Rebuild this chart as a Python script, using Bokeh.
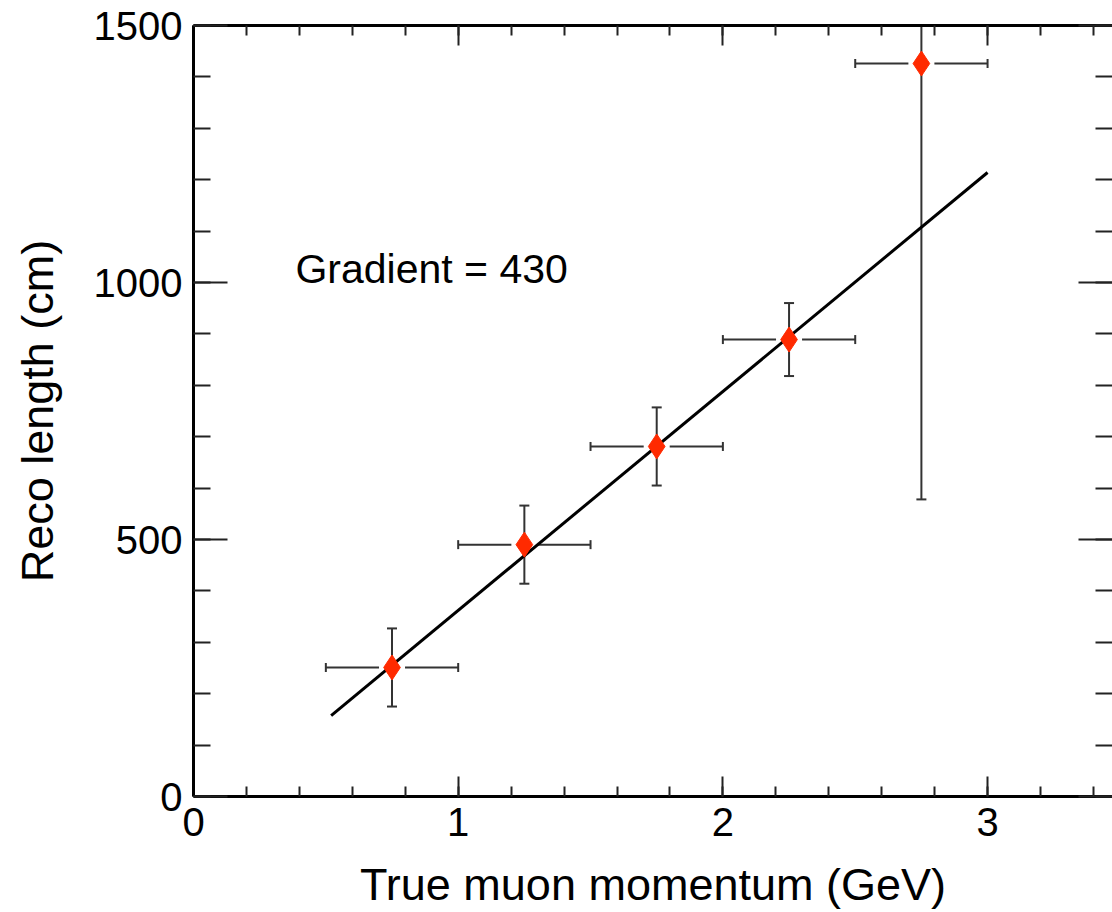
from bokeh.plotting import figure
from bokeh.models import (Range1d, LinearAxis, SingleIntervalTicker, Whisker, TeeHead,
                          ColumnDataSource, Label)
from bokeh.embed import file_html
from bokeh.resources import INLINE

# ---- data ----
momentum = [0.75, 1.25, 1.75, 2.25, 2.75]          # GeV (bin centres)
momentum_err = [0.25, 0.25, 0.25, 0.25, 0.25]      # half bin width
reco_length = [251, 490, 681, 889, 1426]           # cm
reco_length_err = [76, 76, 76, 71, 848]            # cm
fit_slope = 426.0
fit_intercept = -64.0
fit_range = [0.52, 3.0]

x_end = 3.472
y_end = 1500

FONT = "Liberation Sans"
RED = "#ff2a00"
BAR = "#333333"

p = figure(width=1112, height=912, output_backend="svg", toolbar_location=None,
           x_range=Range1d(0, x_end), y_range=Range1d(0, y_end),
           min_border_left=193, min_border_top=25, min_border_bottom=116,
           min_border_right=0, x_axis_location=None, y_axis_location=None)
p.outline_line_color = None
p.grid.visible = False
p.background_fill_color = "white"
p.border_fill_color = "white"

xt = SingleIntervalTicker(interval=1, num_minor_ticks=5)
yt = SingleIntervalTicker(interval=500, num_minor_ticks=5)


def style(ax, tick_major, tick_minor, show_labels, show_line=True):
    ax.axis_line_width = 3
    ax.axis_line_color = "black" if show_line else None
    ax.major_tick_in = tick_major
    ax.major_tick_out = 0
    ax.minor_tick_in = tick_minor
    ax.minor_tick_out = 0
    ax.major_tick_line_width = 2
    ax.minor_tick_line_width = 2
    ax.major_tick_line_color = "#222222"
    ax.minor_tick_line_color = "#222222"
    if show_labels:
        ax.major_label_text_font = FONT
        ax.major_label_text_font_size = "40px"
        ax.major_label_text_color = "black"
        ax.major_label_standoff = 11
        ax.axis_label_text_font = FONT
        ax.axis_label_text_font_size = "45px"
        ax.axis_label_text_font_style = "normal"
        ax.axis_label_text_color = "black"
    else:
        ax.major_label_text_font_size = "0px"
        ax.major_label_standoff = 0
        ax.major_label_text_color = None


bottom = LinearAxis(ticker=xt, axis_label="True muon momentum (GeV)")
style(bottom, 20, 10, True)
bottom.axis_label_standoff = 20
p.add_layout(bottom, "below")

left = LinearAxis(ticker=yt, axis_label="Reco length (cm)")
style(left, 34, 17, True)
left.axis_label_standoff = 28
p.add_layout(left, "left")

top = LinearAxis(ticker=xt)
style(top, 20, 10, False)
p.add_layout(top, "above")

right = LinearAxis(ticker=yt)
style(right, 34, 17, False, show_line=False)
p.add_layout(right, "right")

# ---- fit line ----
fit_y = [fit_slope * x + fit_intercept for x in fit_range]
p.line(fit_range, fit_y, line_color="black", line_width=3)

# ---- error bars ----
gap = 13.0 / ((1112 - 193) / x_end)  # gap around marker in data units
src_l = ColumnDataSource(dict(base=reco_length,
                              lower=[x - e for x, e in zip(momentum, momentum_err)],
                              upper=[x - gap for x in momentum]))
src_r = ColumnDataSource(dict(base=reco_length,
                              lower=[x + gap for x in momentum],
                              upper=[x + e for x, e in zip(momentum, momentum_err)]))
p.add_layout(Whisker(source=src_l, base="base", lower="lower", upper="upper",
                     dimension="width", line_color=BAR, line_width=2,
                     lower_head=TeeHead(size=9, line_color=BAR, line_width=2),
                     upper_head=None))
p.add_layout(Whisker(source=src_r, base="base", lower="lower", upper="upper",
                     dimension="width", line_color=BAR, line_width=2,
                     lower_head=None,
                     upper_head=TeeHead(size=9, line_color=BAR, line_width=2)))

inside = [i for i in range(len(momentum)) if reco_length[i] + reco_length_err[i] <= y_end]
outside = [i for i in range(len(momentum)) if reco_length[i] + reco_length_err[i] > y_end]

src_vi = ColumnDataSource(dict(base=[momentum[i] for i in inside],
                               lower=[reco_length[i] - reco_length_err[i] for i in inside],
                               upper=[reco_length[i] + reco_length_err[i] for i in inside]))
p.add_layout(Whisker(source=src_vi, base="base", lower="lower", upper="upper",
                     dimension="height", line_color=BAR, line_width=2,
                     lower_head=TeeHead(size=10, line_color=BAR, line_width=2),
                     upper_head=TeeHead(size=10, line_color=BAR, line_width=2)))
src_vo = ColumnDataSource(dict(base=[momentum[i] for i in outside],
                               lower=[reco_length[i] - reco_length_err[i] for i in outside],
                               upper=[min(reco_length[i] + reco_length_err[i], y_end) for i in outside]))
p.add_layout(Whisker(source=src_vo, base="base", lower="lower", upper="upper",
                     dimension="height", line_color=BAR, line_width=2,
                     lower_head=TeeHead(size=10, line_color=BAR, line_width=2),
                     upper_head=None))

# ---- markers ----
p.scatter(momentum, reco_length, marker="diamond", size=25,
          fill_color=RED, line_color=RED, line_width=1)

# ---- gradient label ----
p.add_layout(Label(x=0.385, y=1027, text=f"Gradient = {round(fit_slope, -1):.0f}",
                   text_font=FONT, text_font_size="41px", text_color="black",
                   text_baseline="alphabetic"))

open("out.html", "w").write(file_html(p, INLINE))
